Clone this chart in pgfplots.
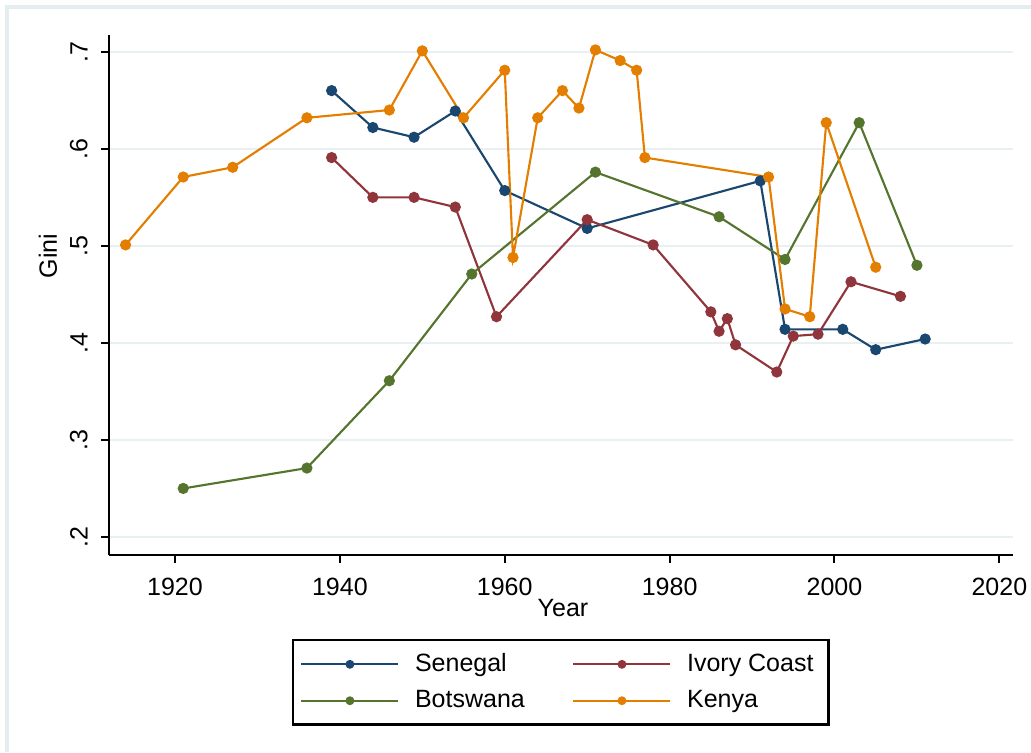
\documentclass[border=0pt]{standalone}
\usepackage{fontspec}
\setmainfont{Liberation Sans}
\usepackage{pgfplots}
\pgfplotsset{compat=1.18}
\usepackage{pgfplotstable}
\definecolor{snavy}{RGB}{26,71,111}
\definecolor{smaroon}{RGB}{144,53,59}
\definecolor{sgreen}{RGB}{85,117,47}
\definecolor{sorange}{RGB}{227,126,0}
\definecolor{sgrid}{RGB}{232,240,242}
\definecolor{sframe}{RGB}{228,237,240}

\pgfplotstableread{
year gini
1939 0.660
1944 0.622
1949 0.612
1954 0.639
1960 0.557
1970 0.518
1991 0.567
1994 0.414
2001 0.414
2005 0.393
2011 0.404
}\senegal

\pgfplotstableread{
year gini
1939 0.591
1944 0.550
1949 0.550
1954 0.540
1959 0.427
1970 0.527
1978 0.501
1985 0.432
1986 0.412
1987 0.425
1988 0.398
1993 0.370
1995 0.407
1998 0.409
2002 0.463
2008 0.448
}\ivory

\pgfplotstableread{
year gini
1921 0.250
1936 0.271
1946 0.361
1956 0.471
1971 0.576
1986 0.530
1994 0.486
2003 0.627
2010 0.480
}\botswana

\pgfplotstableread{
year gini
1914 0.501
1921 0.571
1927 0.581
1936 0.632
1946 0.640
1950 0.701
1955 0.632
1960 0.681
1961 0.488
1964 0.632
1967 0.660
1969 0.642
1971 0.702
1974 0.691
1976 0.681
1977 0.591
1992 0.571
1994 0.435
1997 0.427
1999 0.627
2005 0.478
}\kenya

\begin{document}
\begin{tikzpicture}
\useasboundingbox (0pt,0pt) rectangle (412.4pt,300.8pt);
\draw[sframe, line width=1.4pt] (2.8pt,0pt) -- (2.8pt,298pt) -- (412.4pt,298pt);
\begin{axis}[
  at={(43.72pt,78.8pt)}, anchor=south west,
  scale only axis, width=361.5pt, height=208pt,
  xmin=1912.03, xmax=2021.66, ymin=0.1814, ymax=0.7175,
  axis x line*=bottom, axis y line*=left,
  axis line style={-, line width=0.9pt, black},
  xtick={1920,1940,1960,1980,2000,2020},
  xticklabels={1920,1940,1960,1980,2000,2020},
  ytick={0.2,0.3,0.4,0.5,0.6,0.7},
  yticklabels={.2,.3,.4,.5,.6,.7},
  tick align=outside, major tick length=3.2pt,
  tick style={black, line width=0.8pt},
  ymajorgrids, grid style={sgrid, line width=1pt},
  xticklabel style={anchor=north, yshift=-2.4pt},
  yticklabel style={rotate=90, anchor=south, inner sep=5.3pt},
  ylabel={Gini},
  ylabel style={at={(axis description cs:-0.068,0.575)}, anchor=center, rotate=0},
  xlabel={Year},
  xlabel style={at={(axis description cs:0.502,0)}, anchor=center, yshift=-21.2pt},
  every axis plot/.append style={line width=0.85pt, mark=*, mark size=1.8pt},
  legend columns=2,
  legend cell align=left,
  legend style={at={(axis description cs:0.2018,-0.1615)}, anchor=north west,
    draw=black, line width=0.9pt, inner xsep=3pt, inner ysep=2.3pt,
    nodes={inner sep=3pt},
    /tikz/every odd column/.append style={column sep=3.2pt},
    /tikz/every even column/.append style={column sep=16pt}},
  legend image code/.code={
    \draw[mark repeat=2,mark phase=2,#1,mark size=1.3pt,line width=0.9pt]
      plot coordinates {(0pt,0pt) (19.4pt,0pt) (38.8pt,0pt)};},
]
\addplot[color=snavy, mark options={fill=snavy}] table[x=year,y=gini] {\senegal};
\addlegendentry{Senegal}
\addplot[color=smaroon, mark options={fill=smaroon}] table[x=year,y=gini] {\ivory};
\addlegendentry{Ivory Coast}
\addplot[color=sgreen, mark options={fill=sgreen}] table[x=year,y=gini] {\botswana};
\addlegendentry{Botswana}
\addplot[color=sorange, mark options={fill=sorange}] table[x=year,y=gini] {\kenya};
\addlegendentry{Kenya}
\end{axis}
\end{tikzpicture}
\end{document}
